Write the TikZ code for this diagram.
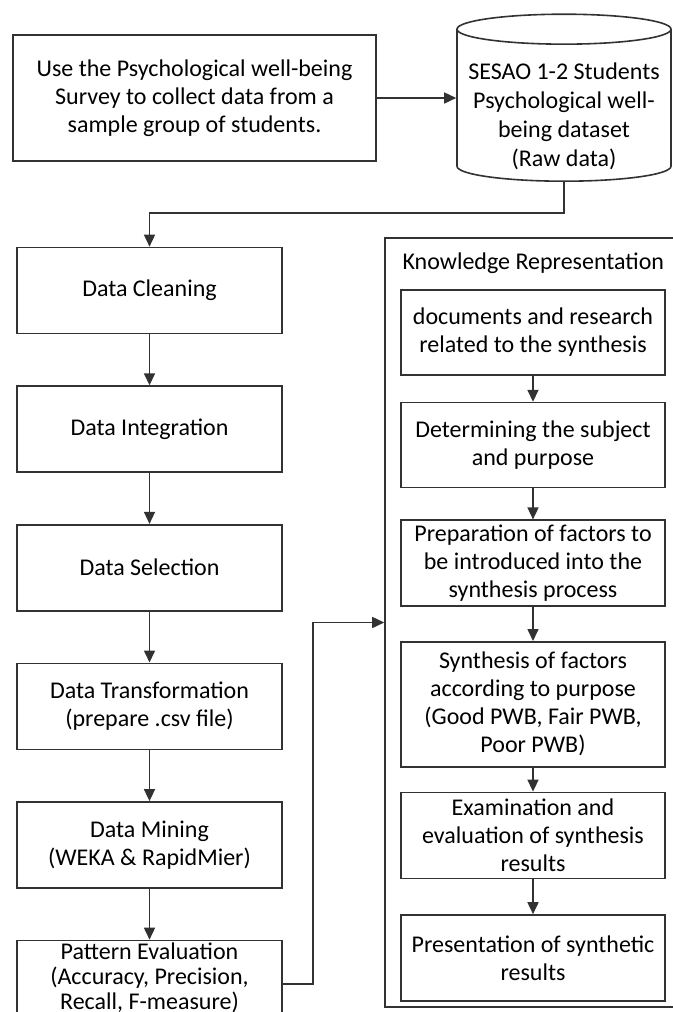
\documentclass[tikz,border=0pt]{standalone}
\usepackage{fontspec}
\setmainfont{Carlito}
\usepackage{tikz}
\usetikzlibrary{arrows.meta,shapes.geometric,positioning}
\definecolor{kdline}{RGB}{50,50,50}
\tikzstyle{arrow} = [line width=0.8pt,-{Triangle[length=6pt,width=5.5pt]},color=kdline]
\tikzstyle{stepbox} = [rectangle, minimum width=132.5pt, minimum height=43pt, text centered, align=center, draw=kdline, line width=0.8pt, inner sep=1pt, font=\fontsize{12}{14}\selectfont]
\tikzstyle{krbox} = [stepbox, minimum width=132pt, minimum height=42.5pt]
\tikzstyle{dbcyl} = [cylinder, shape border rotate=90, aspect=0.14, draw=kdline, line width=0.8pt, minimum width=107pt, minimum height=83.5pt, inner sep=1pt]

\begin{document}
\begin{tikzpicture}
\useasboundingbox (0,0) rectangle (336.5pt,-506pt);
\clip (0,0) rectangle (336.5pt,-506pt);

% Collection
\node[stepbox, minimum width=181.5pt, minimum height=63pt] (survey) at (97.25pt,-49pt) {Use the Psychological well-being\\Survey to collect data from a\\sample group of students.};
\node[dbcyl, anchor=south] (rawdata) at (282pt,-91pt) {\hspace*{105pt}};
\node[align=center, font=\fontsize{12}{14.5}\selectfont] (rawtext) at ([yshift=33pt]rawdata.south) {SESAO 1-2 Students\\Psychological well-\\being dataset\\(Raw data)};
\draw[arrow] (survey.east) -- (survey.east -| rawdata.west);

% KDD steps
\node[stepbox] (clean) at (74.75pt,-145.25pt) {Data Cleaning};
\node[stepbox, below=25.5pt of clean] (integ) {Data Integration};
\node[stepbox, below=25.5pt of integ] (select) {Data Selection};
\node[stepbox, below=25.5pt of select] (trans) {Data Transformation\\(prepare .csv file)};
\node[stepbox, below=25.5pt of trans] (mining) {Data Mining\\(WEKA \& RapidMier)};
\node[stepbox, below=25.5pt of mining, font=\fontsize{12}{12.5}\selectfont, text depth=8pt] (patt) {Pattern Evaluation\\(Accuracy, Precision,\\Recall, F-measure)};
\draw[arrow] (rawdata.south) -- ++(0,-15.5pt) -| (clean.north);
\draw[arrow] (clean) -- (integ);
\draw[arrow] (integ) -- (select);
\draw[arrow] (select) -- (trans);
\draw[arrow] (trans) -- (mining);
\draw[arrow] (mining) -- (patt);

% Knowledge Representation
\node[rectangle, draw=kdline, line width=0.8pt, minimum width=152.5pt, minimum height=384.5pt] (kr) at (268.75pt,-311.25pt) {};
\node[below right=7.5pt and 9pt of kr.north west, inner sep=0pt, font=\fontsize{12}{14}\selectfont] (krtitle) {Knowledge Representation};
\node[krbox] (docs) at (266.5pt,-166.25pt) {documents and research\\related to the synthesis};
\node[krbox, below=13pt of docs] (subj) {Determining the subject\\and purpose};
\node[krbox, below=15.5pt of subj, minimum height=43pt] (prep) {Preparation of factors to\\be introduced into the\\synthesis process};
\node[krbox, below=17pt of prep, minimum height=62.5pt] (synth) {Synthesis of factors\\according to purpose\\(Good PWB, Fair PWB,\\Poor PWB)};
\node[krbox, below=12pt of synth, minimum height=43pt] (exam) {Examination and\\evaluation of synthesis\\results};
\node[krbox, below=17.5pt of exam, minimum height=43pt] (pres) {Presentation of synthetic\\results};
\draw[arrow] (docs) -- (subj);
\draw[arrow] (subj) -- (prep);
\draw[arrow] (prep) -- (synth);
\draw[arrow] (synth) -- (exam);
\draw[arrow] (exam) -- (pres);
\draw[arrow] (patt.east) -- ++(15pt,0) |- (kr.west);
\end{tikzpicture}
\end{document}
